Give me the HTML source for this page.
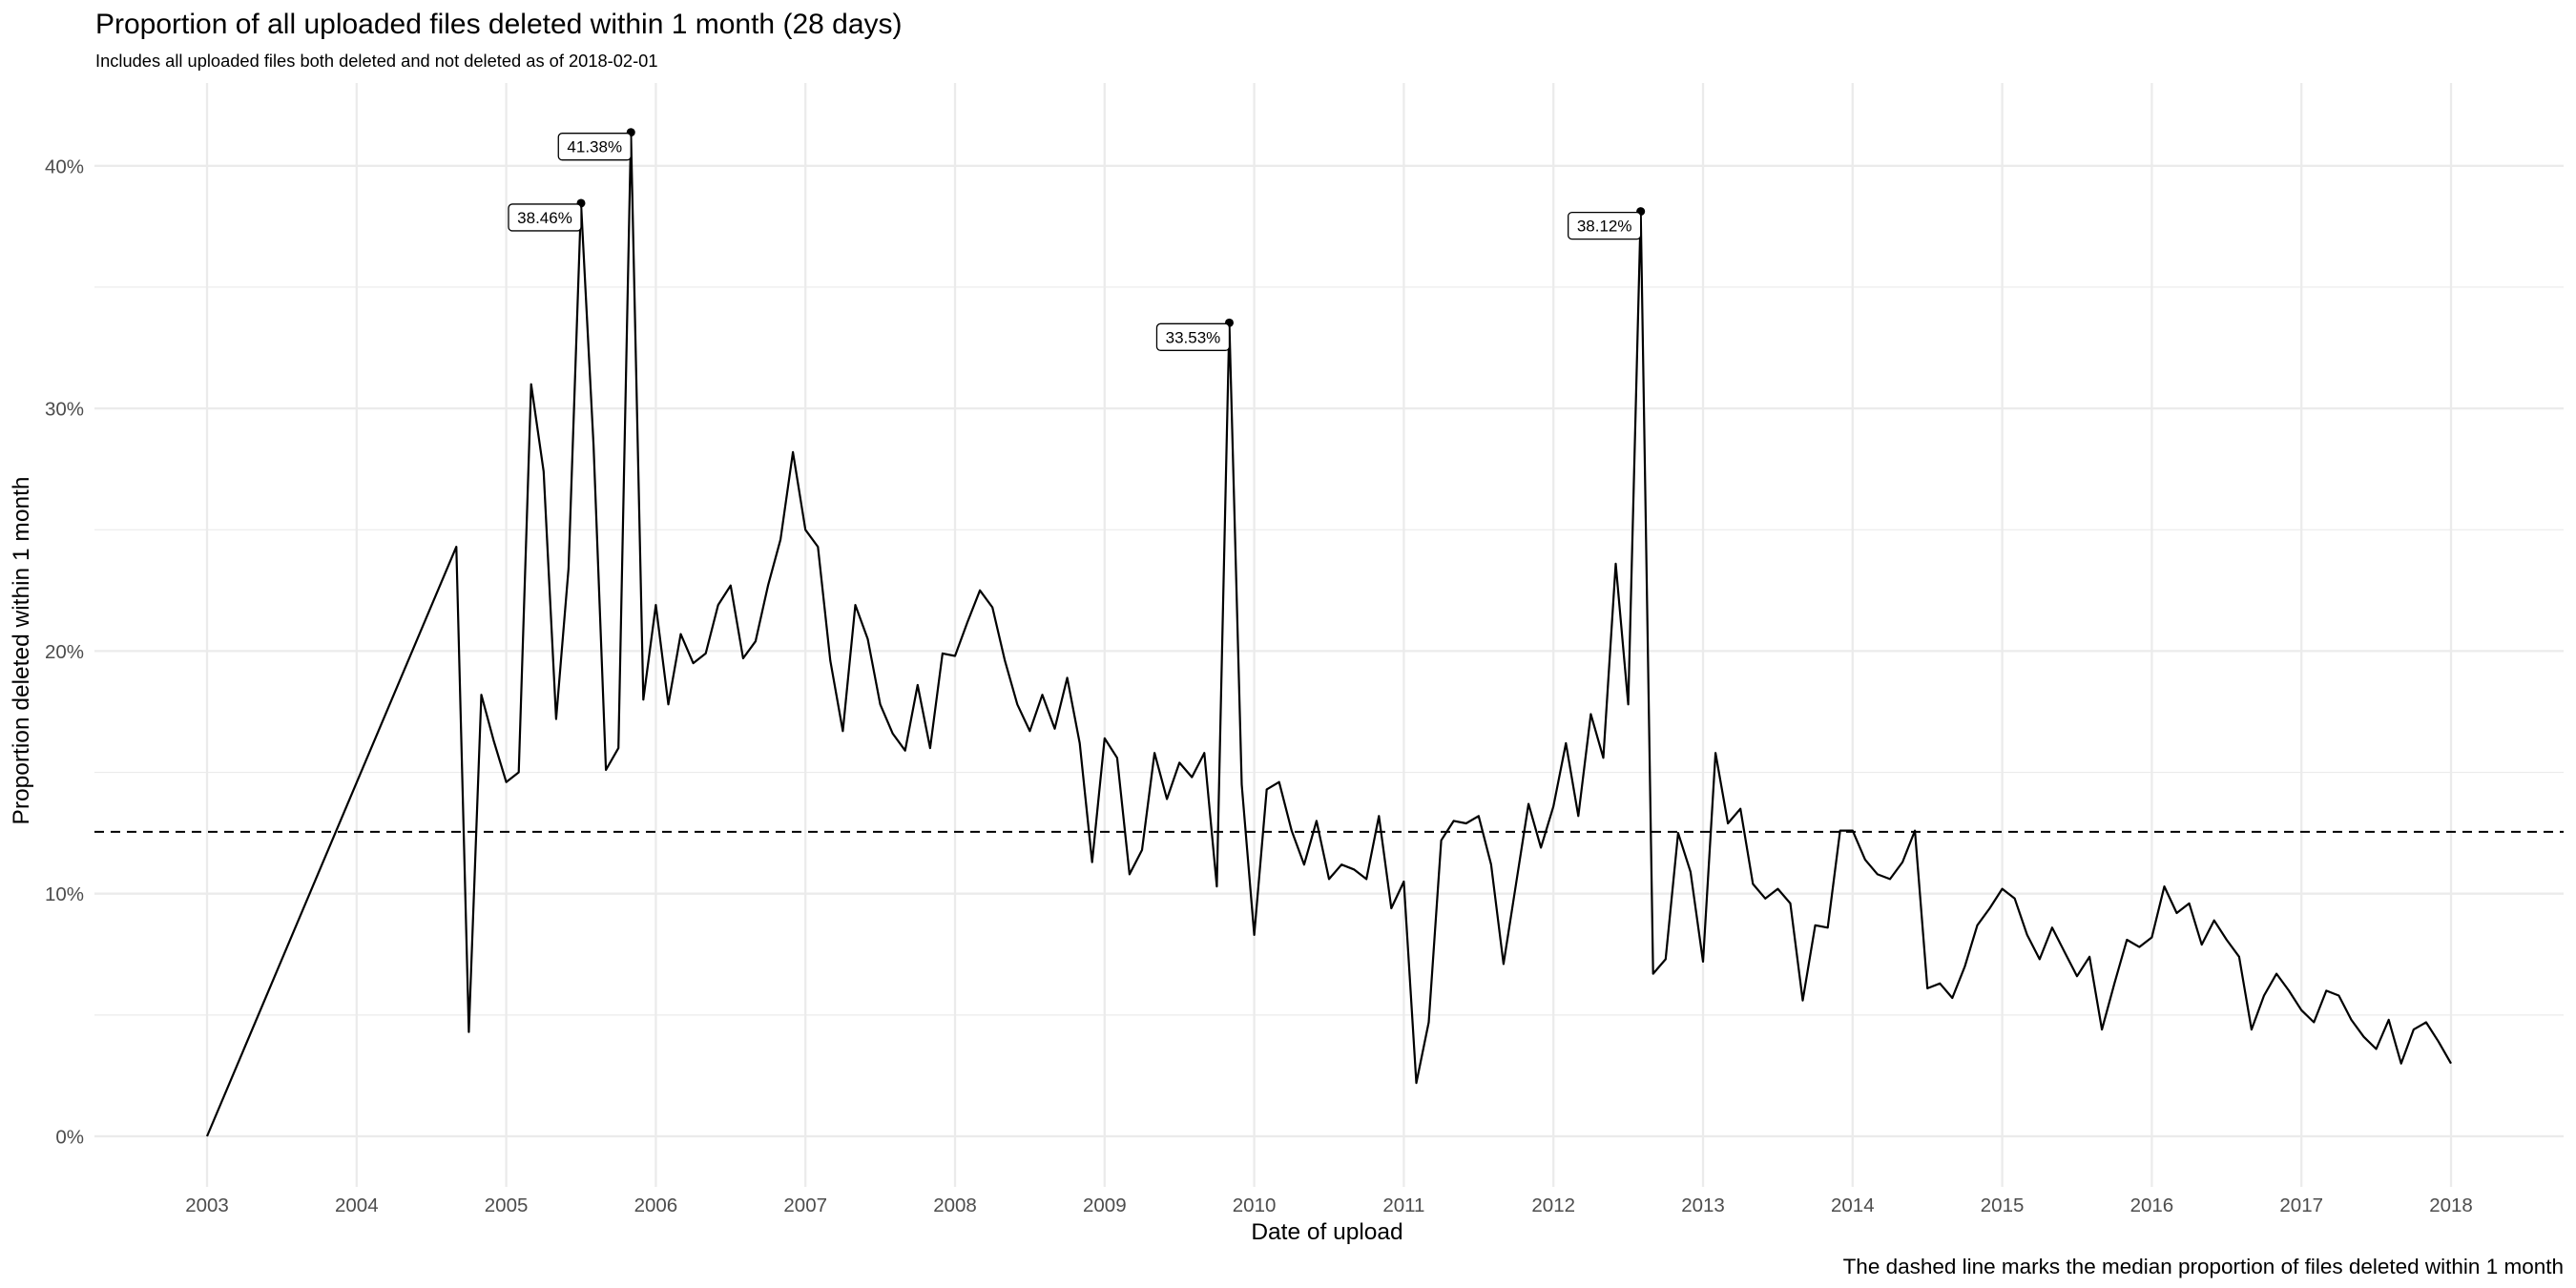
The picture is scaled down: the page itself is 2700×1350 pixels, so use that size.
<!DOCTYPE html>
<html><head><meta charset="utf-8"><style>
html,body{margin:0;padding:0;background:#fff;}
svg{display:block;font-family:"Liberation Sans",Arial,sans-serif;}
</style></head><body>
<svg id="chart" width="2700" height="1350" viewBox="0 0 2700 1350">
<text x="100" y="35" font-size="30" fill="#000">Proportion of all uploaded files deleted within 1 month (28 days)</text>
<text x="100" y="70" font-size="18.3" fill="#000">Includes all uploaded files both deleted and not deleted as of 2018-02-01</text>
<g id="grid"></g>
<g id="axes"></g>
<g id="marks"></g>
<text x="1391" y="1299" font-size="24.5" text-anchor="middle" fill="#000">Date of upload</text>
<text transform="translate(30,682) rotate(-90)" font-size="24.5" text-anchor="middle" fill="#000">Proportion deleted within 1 month</text>
<text x="2687" y="1335" font-size="22.5" text-anchor="end" fill="#000">The dashed line marks the median proportion of files deleted within 1 month</text>
</svg>
<script>
// data: first point is 2003-01, then monthly from 2004-09 to 2018-01
const firstPoint = [2003, 0, 0.0];
const startYear = 2004, startMonth = 8; // September (0-based)
const values = [
24.3,4.3,18.2,16.3,
14.6,15.0,31.0,27.4,17.2,23.4,38.46,28.5,15.1,16.0,41.38,18.0,
21.9,17.8,20.7,19.5,19.9,21.9,22.7,19.7,20.4,22.7,24.6,28.2,
25.0,24.3,19.6,16.7,21.9,20.5,17.8,16.6,15.9,18.6,16.0,19.9,
19.8,21.2,22.5,21.8,19.6,17.8,16.7,18.2,16.8,18.9,16.2,11.3,
16.4,15.6,10.8,11.8,15.8,13.9,15.4,14.8,15.8,10.3,33.53,14.5,
8.3,14.3,14.6,12.6,11.2,13.0,10.6,11.2,11.0,10.6,13.2,9.4,
10.5,2.2,4.7,12.2,13.0,12.9,13.2,11.2,7.1,10.4,13.7,11.9,
13.6,16.2,13.2,17.4,15.6,23.6,17.8,38.12,6.7,7.3,12.5,10.9,
7.2,15.8,12.9,13.5,10.4,9.8,10.2,9.6,5.6,8.7,8.6,12.6,
12.6,11.4,10.8,10.6,11.3,12.6,6.1,6.3,5.7,7.0,8.7,9.4,
10.2,9.8,8.3,7.3,8.6,7.6,6.6,7.4,4.4,6.3,8.1,7.8,
8.2,10.3,9.2,9.6,7.9,8.9,8.1,7.4,4.4,5.8,6.7,6.0,
5.2,4.7,6.0,5.8,4.8,4.1,3.6,4.8,3.0,4.4,4.7,3.9,
3.0];
const medianValue = 12.55;
const xTicks = [2003,2004,2005,2006,2007,2008,2009,2010,2011,2012,2013,2014,2015,2016,2017,2018];
const yTicks = [0,10,20,30,40];
const yMinor = [5,15,25,35];
const labelled = ["38.46%","41.38%","33.53%","38.12%"];

const NS="http://www.w3.org/2000/svg";
const X0=217, X1=2569, Y0=1191, PPP=25.43;
const PL=99, PR=2687, PT=87, PB=1244;
function xs(t){return X0+(t-2003)/15*(X1-X0);}
function ys(v){return Y0-v*PPP;}
function mk(tag,attrs,parent){const e=document.createElementNS(NS,tag);for(const k in attrs)e.setAttribute(k,attrs[k]);parent.appendChild(e);return e;}
const grid=document.getElementById('grid'),axes=document.getElementById('axes'),marks=document.getElementById('marks');

yMinor.forEach(v=>{const l=mk('line',{x1:PL,x2:PR,y1:ys(v),y2:ys(v),stroke:'#ebebeb','stroke-width':1.2},grid);

});
yTicks.forEach(v=>{const l=mk('line',{x1:PL,x2:PR,y1:ys(v),y2:ys(v),stroke:'#ebebeb','stroke-width':2.3},grid);


const t=mk('text',{x:88,y:ys(v)+7.5,'font-size':20.5,'text-anchor':'end',fill:'#4d4d4d'},axes);t.textContent=v+'%';

});
xTicks.forEach(y=>{const l=mk('line',{x1:xs(y),x2:xs(y),y1:PT,y2:PB,stroke:'#ebebeb','stroke-width':2.3},grid);


const t=mk('text',{x:xs(y),y:1270,'font-size':20.5,'text-anchor':'middle',fill:'#4d4d4d'},axes);t.textContent=y;

});

const med=mk('line',{x1:PL,x2:PR,y1:ys(medianValue),y2:ys(medianValue),stroke:'#000','stroke-width':2,'stroke-dasharray':'10,7'},marks);



const pts=[[xs(firstPoint[0]+firstPoint[1]/12),ys(firstPoint[2]),firstPoint[2]]];
values.forEach((v,i)=>{const m=startMonth+i;const t=startYear+Math.floor(m/12)+(m%12)/12;pts.push([xs(t),ys(v),v]);});
const line=mk('polyline',{points:pts.map(p=>p[0].toFixed(1)+','+p[1].toFixed(1)).join(' '),fill:'none',stroke:'#000','stroke-width':2.2,'stroke-linejoin':'round'},marks);



pts.forEach(p=>{const s=p[2].toFixed(2)+'%';if(labelled.indexOf(s)<0)return;
const c=mk('circle',{cx:p[0],cy:p[1],r:4.5,fill:'#000'},marks);


const w=76,h=28;
const r=mk('rect',{x:p[0]-w,y:p[1]+1,width:w,height:h,rx:4,fill:'#fff',stroke:'#000','stroke-width':1.3},marks);


const t=mk('text',{x:p[0]-w/2,y:p[1]+21,'font-size':17,'text-anchor':'middle',fill:'#000'},marks);t.textContent=s;

});
</script>
</body></html>
